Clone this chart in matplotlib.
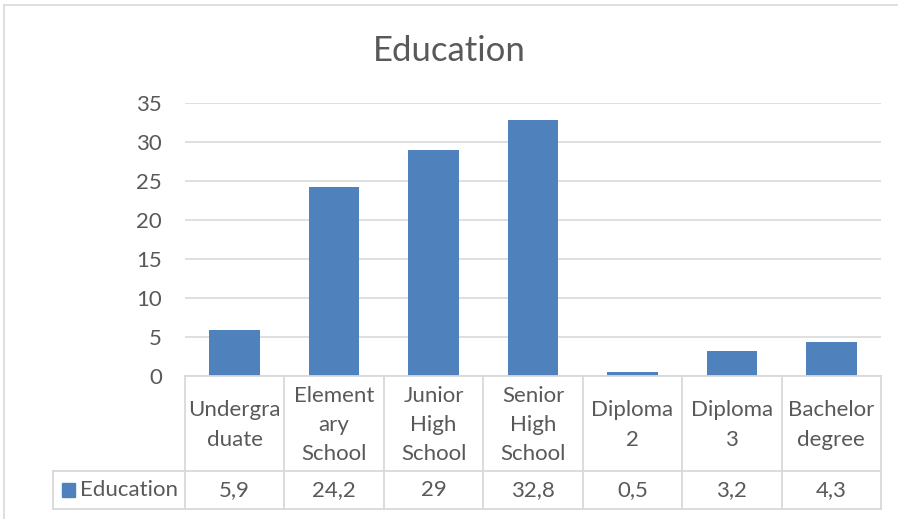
import matplotlib
matplotlib.use("Agg")
import matplotlib.pyplot as plt
from matplotlib.transforms import blended_transform_factory
from matplotlib.patches import Rectangle

plt.rcParams['font.family'] = ['Lato', 'DejaVu Sans']

categories = ["Undergra\nduate", "Element\nary\nSchool", "Junior\nHigh\nSchool",
              "Senior\nHigh\nSchool", "Diploma\n2", "Diploma\n3", "Bachelor\ndegree"]
values = [5.9, 24.2, 29, 32.8, 0.5, 3.2, 4.3]
value_labels = ["5,9", "24,2", "29", "32,8", "0,5", "3,2", "4,3"]
series_name = "Education"
yticks = [0, 5, 10, 15, 20, 25, 30, 35]

W, H = 898, 519
bar_color = "#4f81bd"
grid_color = "#d9d9d9"
text_color = "#595959"
fs = 16

fig = plt.figure(figsize=(W / 100, H / 100), dpi=100)

# chart frame
fig.add_artist(plt.Line2D([4 / W, 4 / W], [0, 1 - 4.5 / H], transform=fig.transFigure,
                          color="#d9d9d9", lw=1.2))
fig.add_artist(plt.Line2D([4 / W, 1], [1 - 4.5 / H, 1 - 4.5 / H], transform=fig.transFigure,
                          color="#d9d9d9", lw=1.2))

left, right, top, bottom = 185, 881, 103, 376
ax = fig.add_axes([left / W, 1 - bottom / H, (right - left) / W, (bottom - top) / H])

x = list(range(len(values)))
ax.bar(x, values, width=0.51, color=bar_color, zorder=3)
ax.set_xlim(-0.5, len(values) - 0.5)
ax.set_ylim(0, 35)
ax.set_yticks(yticks)
ax.set_yticklabels([str(t) for t in yticks], fontsize=fs, color=text_color)
ax.tick_params(axis="y", length=0, pad=16.5)
ax.set_xticks([])
ax.yaxis.grid(True, color=grid_color, lw=1.2, zorder=0)
for s in ax.spines.values():
    s.set_visible(False)

fig.text(0.5, 1 - 51 / H, "Education", ha="center", va="center",
         fontsize=25, color=text_color)

# data table under the axis
ax_h = bottom - top
def ay(py):
    return (bottom - py) / ax_h

tr = blended_transform_factory(ax.transData, ax.transAxes)
y0, y1, y2 = ay(376), ay(471), ay(509)
leg_left = -0.5 - (185 - 53) / ((right - left) / len(values))
line_kw = dict(color=grid_color, lw=1.3, transform=tr, clip_on=False, zorder=4)

# horizontal lines
ax.plot([-0.5, len(values) - 0.5], [y0, y0], **line_kw)
ax.plot([leg_left, len(values) - 0.5], [y1, y1], **line_kw)
ax.plot([leg_left, len(values) - 0.5], [y2, y2], **line_kw)
# vertical lines
for i in range(len(values) + 1):
    ax.plot([i - 0.5, i - 0.5], [y0, y2], **line_kw)
ax.plot([leg_left, leg_left], [y1, y2], **line_kw)

for i, (cat, lab) in enumerate(zip(categories, value_labels)):
    ax.text(i, ay(425), cat, transform=tr, ha="center", va="center",
            fontsize=fs, color=text_color, linespacing=1.58)
    ax.text(i, ay(490), lab, transform=tr, ha="center", va="center",
            fontsize=fs, color=text_color)

# legend key in the table
unit = (right - left) / len(values)
kx = -0.5 - (185 - 62) / unit
kw = 13 / unit
ax.add_patch(Rectangle((kx, ay(497)), kw, ay(483) - ay(497), transform=tr,
                       color=bar_color, clip_on=False))
ax.text(-0.5 - (185 - 80) / unit, ay(490), series_name, transform=tr,
        ha="left", va="center", fontsize=fs, color=text_color)

fig.savefig("out.png", dpi=100)
